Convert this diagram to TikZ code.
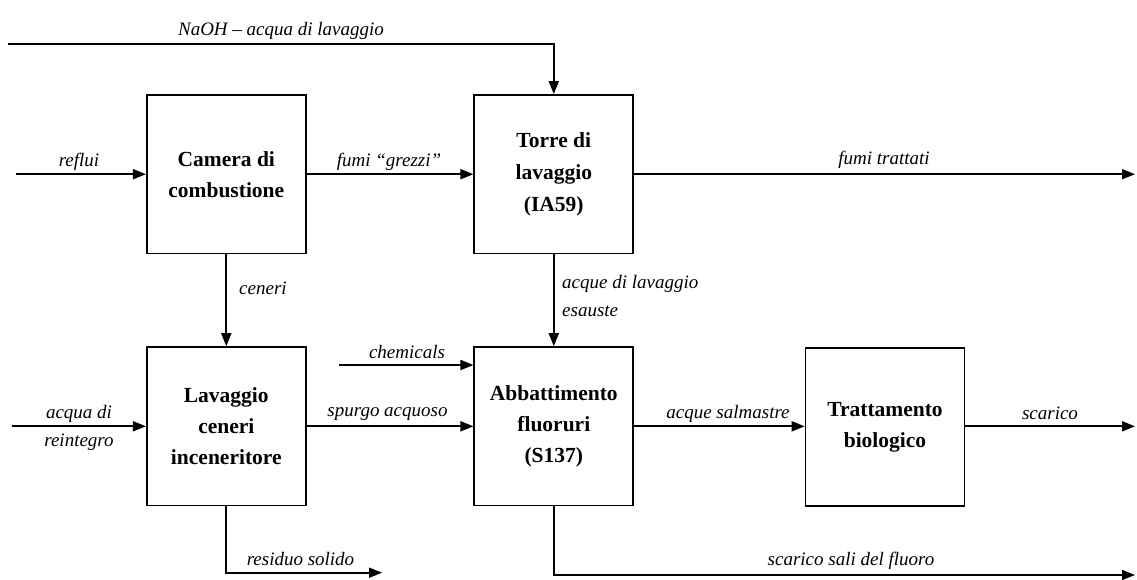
\documentclass[tikz,border=0pt]{standalone}
\usepackage{fontspec}
\setmainfont{Liberation Serif}
\usetikzlibrary{arrows.meta}
\begin{document}
\begin{tikzpicture}[x=1pt,y=-1pt,
  blk/.style={draw, line width=1.7pt, minimum width=159pt, minimum height=158.5pt, inner sep=0pt,
    align=center, font=\fontsize{21.5}{31}\selectfont\bfseries},
  lab/.style={inner sep=0pt, font=\fontsize{19}{28.5}\selectfont\itshape},
  arr/.style={line width=1.7pt, -{Triangle[length=13pt,width=10pt]}}]
\useasboundingbox (0,0) rectangle (1137,579);
\fill[white] (0,0) rectangle (1137,579);
% boxes
\node[blk] (cam) at (226.3,174.2) {Camera di\\combustione};
\node[blk] (tor) at (553.8,174.2) {Torre di\\[1pt]lavaggio\\[1pt](IA59)};
\node[blk] (lav) at (226.3,426.3) {Lavaggio\\ceneri\\inceneritore};
\node[blk] (abb) at (553.8,426.3) {Abbattimento\\fluoruri\\(S137)};
\node[blk] (bio) at (885,427) {Trattamento\\biologico};
% free ends
\coordinate (naIn) at (8,44.3);
\coordinate (reflIn) at (16,174.2);
\coordinate (ftOut) at (1135,174.2);
\coordinate (chIn) at (339,365);
\coordinate (aqIn) at (12,426.3);
\coordinate (scOut) at (1135,426.3);
\coordinate (resOut) at (382,572.7);
\coordinate (salOut) at (1135,575);
% connectors
\draw[arr] (naIn) -| (tor);
\draw[arr] (reflIn) -- (cam);
\draw[arr] (cam) -- (tor);
\draw[arr] (tor) -- (ftOut);
\draw[arr] (cam) -- (lav);
\draw[arr] (tor) -- (abb);
\draw[arr] (chIn) -- (chIn -| abb.west);
\draw[arr] (aqIn) -- (lav);
\draw[arr] (lav) -- (abb);
\draw[arr] (abb.east |- 0,426.3) -- (bio.west |- 0,426.3);
\draw[arr] (bio.east |- 0,426.3) -- (scOut);
\draw[arr] (lav) |- (resOut);
\draw[arr] (abb) |- (salOut);
% labels
\node[lab] (lNa) at (281,31) {NaOH – acqua di lavaggio};
\node[lab] (lRef) at (79,162) {reflui};
\node[lab] (lFg) at (389,162) {fumi “grezzi”};
\node[lab] (lFt) at (884,160) {fumi trattati};
\node[lab, anchor=west] (lCen) at (239,288.5) {ceneri};
\node[lab, anchor=north west, align=left] (lAcq) at (562,275) {acque di lavaggio\\esauste};
\node[lab] (lCh) at (407,352) {chemicals};
\node[lab, align=center] (lAq) at (79,428) {acqua di\\reintegro};
\node[lab] (lSp) at (387.5,414) {spurgo acquoso};
\node[lab] (lSal) at (728,414) {acque salmastre};
\node[lab] (lSc) at (1050,413) {scarico};
\node[lab] (lRes) at (300.5,559) {residuo solido};
\node[lab] (lSali) at (851,561) {scarico sali del fluoro};
\end{tikzpicture}
\end{document}
